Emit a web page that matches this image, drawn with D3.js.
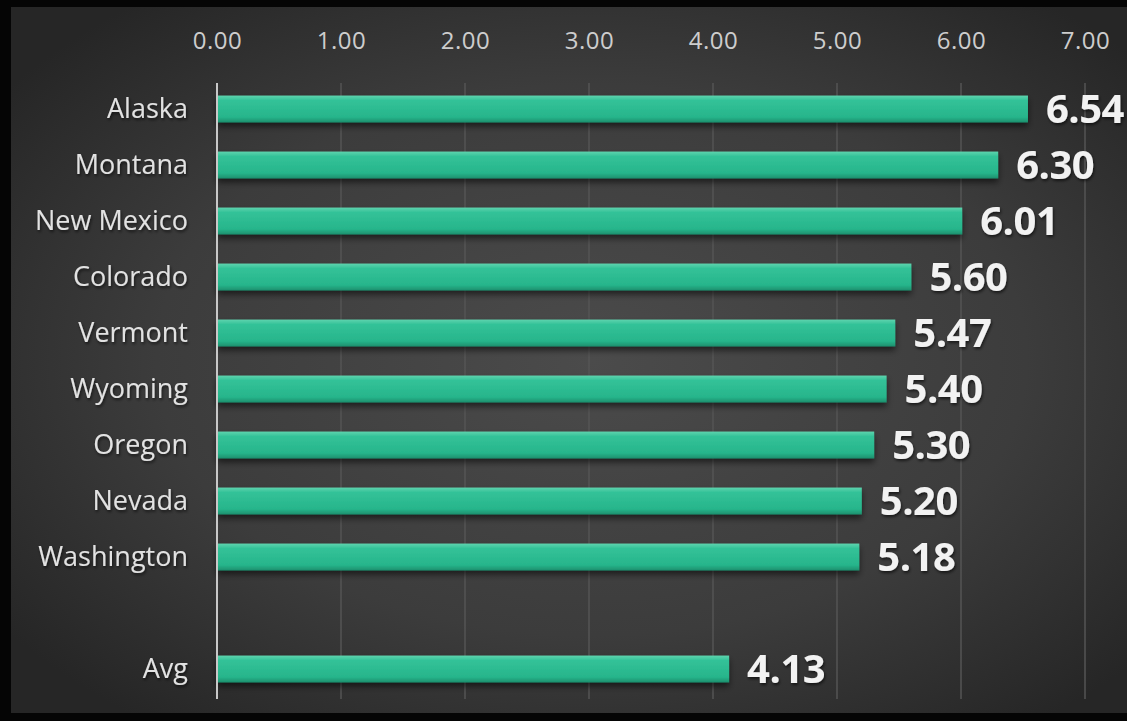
<!DOCTYPE html>
<html>
<head>
<meta charset="utf-8">
<script src="https://cdn.jsdelivr.net/npm/d3@7"></script>
<style>
  html, body { margin: 0; padding: 0; background: #000; }
  svg { display: block; }
</style>
</head>
<body>
<script>
// Categories top to bottom; the blank key leaves a gap before the average row
const categories = ["Alaska", "Montana", "New Mexico", "Colorado", "Vermont", "Wyoming", "Oregon", "Nevada", "Washington", " ", "Avg"];
const values = [6.54, 6.30, 6.01, 5.60, 5.47, 5.40, 5.30, 5.20, 5.18, null, 4.13];
const tickValues = [0, 1, 2, 3, 4, 5, 6, 7];

const W = 1127, H = 721;
const svg = d3.select("body").append("svg").attr("width", W).attr("height", H);
const defs = svg.append("defs");

// Panel background: soft radial glow on dark grey
const bg = defs.append("radialGradient").attr("id", "bgGrad")
  .attr("cx", "52%").attr("cy", "50%").attr("r", "65%");
bg.append("stop").attr("offset", "0%").attr("stop-color", "#4b4b4b");
bg.append("stop").attr("offset", "60%").attr("stop-color", "#3c3c3c");
bg.append("stop").attr("offset", "100%").attr("stop-color", "#262626");

// Bar fill: lighter top edge, darker underside
const barGrad = defs.append("linearGradient").attr("id", "barGrad")
  .attr("x1", 0).attr("y1", 0).attr("x2", 0).attr("y2", 1);
barGrad.append("stop").attr("offset", "0%").attr("stop-color", "#5fd4ae");
barGrad.append("stop").attr("offset", "18%").attr("stop-color", "#33c298");
barGrad.append("stop").attr("offset", "80%").attr("stop-color", "#27b58b");
barGrad.append("stop").attr("offset", "100%").attr("stop-color", "#1c8f6d");

const shadow = defs.append("filter").attr("id", "barShadow")
  .attr("x", "-5%").attr("y", "-30%").attr("width", "110%").attr("height", "190%");
shadow.append("feDropShadow").attr("dx", 0).attr("dy", 4).attr("stdDeviation", 3)
  .attr("flood-color", "#000").attr("flood-opacity", 0.55);

const textShadow = defs.append("filter").attr("id", "textShadow")
  .attr("x", "-10%").attr("y", "-20%").attr("width", "130%").attr("height", "150%");
textShadow.append("feDropShadow").attr("dx", 1).attr("dy", 2).attr("stdDeviation", 1.5)
  .attr("flood-color", "#000").attr("flood-opacity", 0.6);

// Black frame around the panel
svg.append("rect").attr("x", 0).attr("y", 0).attr("width", W).attr("height", H).attr("fill", "#050505");
svg.append("rect").attr("x", 11).attr("y", 7).attr("width", W - 11).attr("height", 706)
  .attr("fill", "url(#bgGrad)");

const x = d3.scaleLinear().domain([0, 7]).range([217, 1085]);
const y = d3.scaleBand().domain(categories).range([81, 697]).paddingInner(0.52).paddingOuter(0.26);

const font = "'Open Sans', 'DejaVu Sans', sans-serif";

// Vertical gridlines
svg.append("g").selectAll("line").data(tickValues.slice(1)).join("line")
  .attr("x1", d => x(d)).attr("x2", d => x(d))
  .attr("y1", 83).attr("y2", 699)
  .attr("stroke", "#555").attr("stroke-width", 1.5);

// Top axis labels
const xAxis = d3.axisTop(x).tickValues(tickValues).tickFormat(d3.format(".2f")).tickSize(0).tickPadding(0);
const gx = svg.append("g").attr("transform", "translate(0,49)").call(xAxis);
gx.select(".domain").remove();
gx.selectAll("text").attr("fill", "#cdcdcd").attr("font-size", 24).attr("font-family", font)
  .attr("letter-spacing", 0.5);

// Bars
const rows = categories.map((c, i) => ({ c, v: values[i] })).filter(d => d.v !== null);
svg.append("g").selectAll("rect").data(rows).join("rect")
  .attr("x", x(0)).attr("y", d => y(d.c))
  .attr("width", d => x(d.v) - x(0)).attr("height", y.bandwidth())
  .attr("fill", "url(#barGrad)").attr("filter", "url(#barShadow)");

// Category axis on the left
const yAxis = d3.axisLeft(y).tickSize(0).tickPadding(29);
const gy = svg.append("g").attr("transform", `translate(${x(0)},0)`).call(yAxis);
gy.select(".domain").remove();
gy.selectAll("text").attr("fill", "#e2e2e2").attr("font-size", 27).attr("font-family", font)
  .attr("filter", "url(#textShadow)");

svg.append("line").attr("x1", x(0)).attr("x2", x(0)).attr("y1", 83).attr("y2", 699)
  .attr("stroke", "#c8c8c8").attr("stroke-width", 2);

// Value labels
svg.append("g").selectAll("text").data(rows).join("text")
  .attr("x", d => x(d.v) + 18).attr("y", d => y(d.c) + y.bandwidth() / 2)
  .attr("dy", "0.36em")
  .attr("fill", "#f2f2f2").attr("font-size", 40).attr("font-weight", 700)
  .attr("letter-spacing", -0.5)
  .attr("font-family", font).attr("filter", "url(#textShadow)")
  .text(d => d3.format(".2f")(d.v));
</script>
</body>
</html>
